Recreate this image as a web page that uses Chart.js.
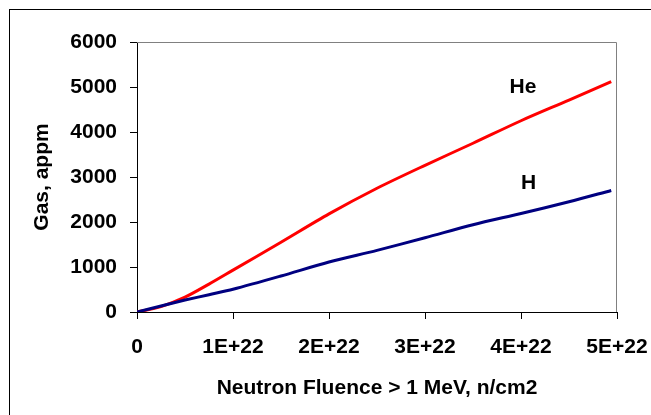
<!DOCTYPE html>
<html>
<head>
<meta charset="utf-8">
<script src="https://cdn.jsdelivr.net/npm/chart.js@4"></script>
<style>
  body { margin: 0; background: #fff; overflow: hidden; }
  #frame { position: absolute; left: 9px; top: 9px; width: 700px; height: 500px; border: 1px solid #000; }
  #chart { position: absolute; left: 0; top: 0; }
</style>
</head>
<body>
<div id="frame"></div>
<canvas id="chart" width="651" height="415"></canvas>
<script>
// fluence in n/cm2, gas in appm
const fluence = [0, 0.25e22, 0.5e22, 0.75e22, 1.0e22, 1.5e22, 2.0e22, 2.5e22, 3.0e22, 3.5e22, 4.0e22, 4.5e22, 4.94e22];
const helium = [0, 120, 330, 620, 930, 1550, 2180, 2750, 3260, 3750, 4250, 4710, 5120];
const hydrogen = [0, 135, 265, 385, 505, 800, 1110, 1370, 1650, 1940, 2190, 2450, 2700];
const xTicks = [0, 1e22, 2e22, 3e22, 4e22, 5e22];
const seriesLabels = [
  { text: 'He', x: 4.02e22, y: 5000 },
  { text: 'H', x: 4.08e22, y: 2870 }
];

const font = { family: '"Liberation Sans", Arial, sans-serif', size: 21, weight: 'bold' };

function toPoints(ys) {
  return fluence.map((x, i) => ({ x, y: ys[i] }));
}

const framePlugin = {
  id: 'frame',
  beforeDatasetsDraw(chart) {
    const { ctx, chartArea: a } = chart;
    ctx.save();
    ctx.strokeStyle = '#808080';
    ctx.lineWidth = 1;
    ctx.beginPath();
    ctx.moveTo(a.left, a.top + 0.5);
    ctx.lineTo(a.right - 0.5, a.top + 0.5);
    ctx.lineTo(a.right - 0.5, a.bottom);
    ctx.stroke();
    ctx.restore();
  },
  afterDatasetsDraw(chart) {
    const { ctx, scales } = chart;
    ctx.save();
    ctx.fillStyle = '#000';
    ctx.font = 'bold 21px "Liberation Sans", Arial, sans-serif';
    ctx.textAlign = 'center';
    ctx.textBaseline = 'middle';
    seriesLabels.forEach(l => {
      ctx.fillText(l.text, scales.x.getPixelForValue(l.x), scales.y.getPixelForValue(l.y));
    });
    ctx.restore();
  }
};

new Chart(document.getElementById('chart'), {
  type: 'line',
  data: {
    datasets: [
      {
        label: 'H',
        data: toPoints(hydrogen),
        borderColor: '#000080',
        borderWidth: 3,
        pointRadius: 0,
        tension: 0.3
      },
      {
        label: 'He',
        data: toPoints(helium),
        borderColor: '#ff0000',
        borderWidth: 3,
        pointRadius: 0,
        tension: 0.3
      }
    ]
  },
  options: {
    responsive: false,
    animation: false,
    layout: { padding: { top: 42, right: 34, left: 0, bottom: 0 } },
    plugins: {
      legend: { display: false },
      tooltip: { enabled: false }
    },
    scales: {
      x: {
        type: 'linear',
        min: 0,
        max: 5e22,
        afterBuildTicks: s => { s.ticks = xTicks.map(v => ({ value: v })); },
        afterFit: s => { s.height = 103; s.paddingLeft = 0; s.paddingRight = 0; },
        ticks: {
          color: '#000',
          font,
          padding: 16,
          maxRotation: 0,
          callback: v => v === 0 ? '0' : (v / 1e22) + 'E+22'
        },
        grid: { drawOnChartArea: false, drawTicks: true, tickLength: 7, tickColor: '#000' },
        border: { color: '#000', width: 1 },
        title: {
          display: true,
          text: 'Neutron Fluence > 1 MeV, n/cm2',
          color: '#000',
          font,
          padding: { top: 14, bottom: 14 }
        }
      },
      y: {
        min: 0,
        max: 6000,
        afterFit: s => { s.width = 137; s.paddingTop = 0; s.paddingBottom = 0; },
        ticks: { stepSize: 1000, color: '#000', font, padding: 13, callback: v => String(v) },
        grid: { drawOnChartArea: false, drawTicks: true, tickLength: 7, tickColor: '#000' },
        border: { color: '#000', width: 1 },
        title: {
          display: true,
          text: 'Gas, appm',
          color: '#000',
          font,
          padding: { top: 30, bottom: 30 }
        }
      }
    }
  },
  plugins: [framePlugin]
});
</script>
</body>
</html>
